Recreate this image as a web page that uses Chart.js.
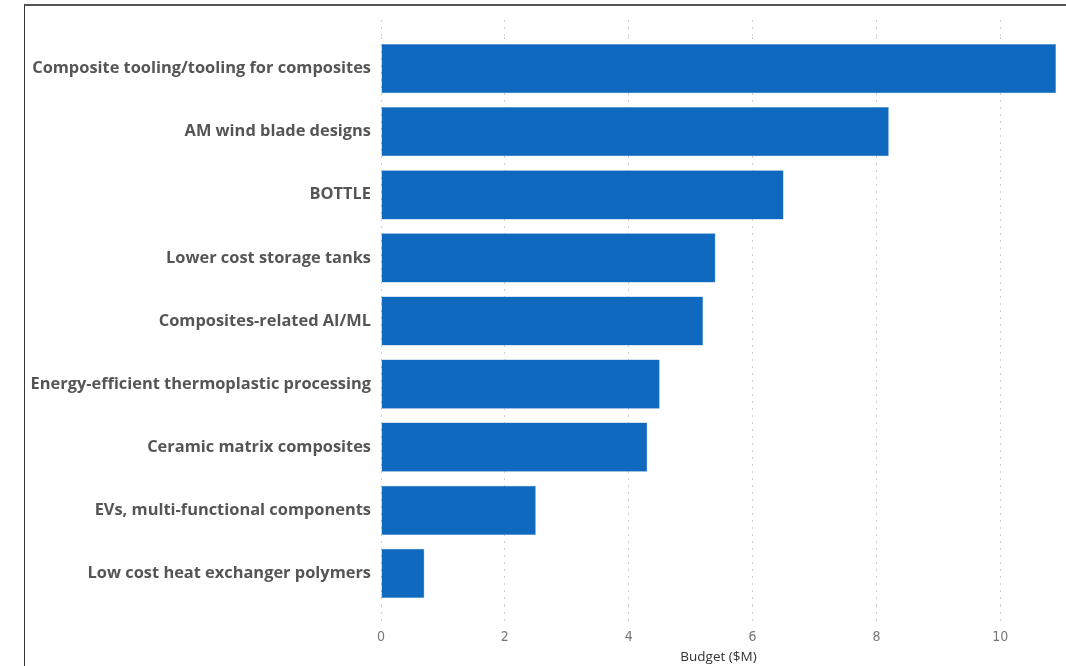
<!DOCTYPE html>
<html>
<head>
<meta charset="utf-8">
<script src="https://cdn.jsdelivr.net/npm/chart.js@4"></script>
<style>
  html, body { margin: 0; padding: 0; background: #fff; }
  #page { position: relative; width: 1066px; height: 666px; overflow: hidden; }
  #frame {
    position: absolute; left: 24px; top: 4px; right: 0; bottom: 0;
    border-top: 2px solid #555; border-left: 1px solid #333;
  }
  #wrap { position: absolute; left: 26px; top: 6px; width: 1040px; height: 660px; }
</style>
</head>
<body>
<div id="page">
  <div id="frame"></div>
  <div id="wrap"><canvas id="budgetChart"></canvas></div>
</div>
<script>
// budget per project area, $M
const categories = [
  'Composite tooling/tooling for composites',
  'AM wind blade designs',
  'BOTTLE',
  'Lower cost storage tanks',
  'Composites-related AI/ML',
  'Energy-efficient thermoplastic processing',
  'Ceramic matrix composites',
  'EVs, multi-functional components',
  'Low cost heat exchanger polymers'
];
const budgets = [10.9, 8.2, 6.5, 5.4, 5.2, 4.5, 4.3, 2.5, 0.7];
const xMax = 10.9;
const xStep = 2;

const dotted = [2, 5];
const gridColor = '#cfcfcf';

new Chart(document.getElementById('budgetChart'), {
  type: 'bar',
  data: {
    labels: categories,
    datasets: [{
      label: 'Budget ($M)',
      data: budgets,
      backgroundColor: '#0F6ABF',
      borderColor: '#4C8FD0',
      borderWidth: 0.5,
      categoryPercentage: 1,
      barPercentage: 0.78
    }]
  },
  options: {
    indexAxis: 'y',
    responsive: true,
    maintainAspectRatio: false,
    animation: false,
    layout: { padding: { top: 14, right: 10, bottom: 0, left: 0 } },
    plugins: {
      legend: { display: false },
      tooltip: { enabled: false }
    },
    scales: {
      x: {
        position: 'bottom',
        min: 0,
        max: xMax,
        // v4 takes the grid line dash from border.dash
        border: { display: false, dash: dotted },
        grid: {
          color: gridColor,
          tickBorderDash: dotted,
          tickColor: gridColor,
          tickLength: 20
        },
        ticks: {
          stepSize: xStep,
          includeBounds: false,
          padding: 4,
          color: '#777',
          font: { family: "'Liberation Sans Narrow', 'DejaVu Sans Condensed', sans-serif", size: 14 }
        },
        title: {
          display: true,
          text: 'Budget ($M)',
          color: '#333',
          padding: { top: 2, bottom: 1 },
          font: { family: "'Open Sans', sans-serif", size: 13.5 }
        },
        afterFit: s => { s.height = 61; }
      },
      // top axis only carries the dotted stubs above the bars
      x2: {
        position: 'top',
        min: 0,
        max: xMax,
        border: { display: false },
        grid: {
          drawOnChartArea: false,
          tickBorderDash: dotted,
          tickColor: gridColor,
          tickLength: 17
        },
        ticks: { stepSize: xStep, includeBounds: false, display: false }
      },
      y: {
        border: { display: false },
        grid: { display: false, drawTicks: false },
        ticks: {
          padding: 10,
          color: '#555',
          font: { family: "'Open Sans', sans-serif", size: 16.4, weight: 'bold' }
        },
        afterFit: s => { s.width = 355; }
      }
    }
  }
});
</script>
</body>
</html>
